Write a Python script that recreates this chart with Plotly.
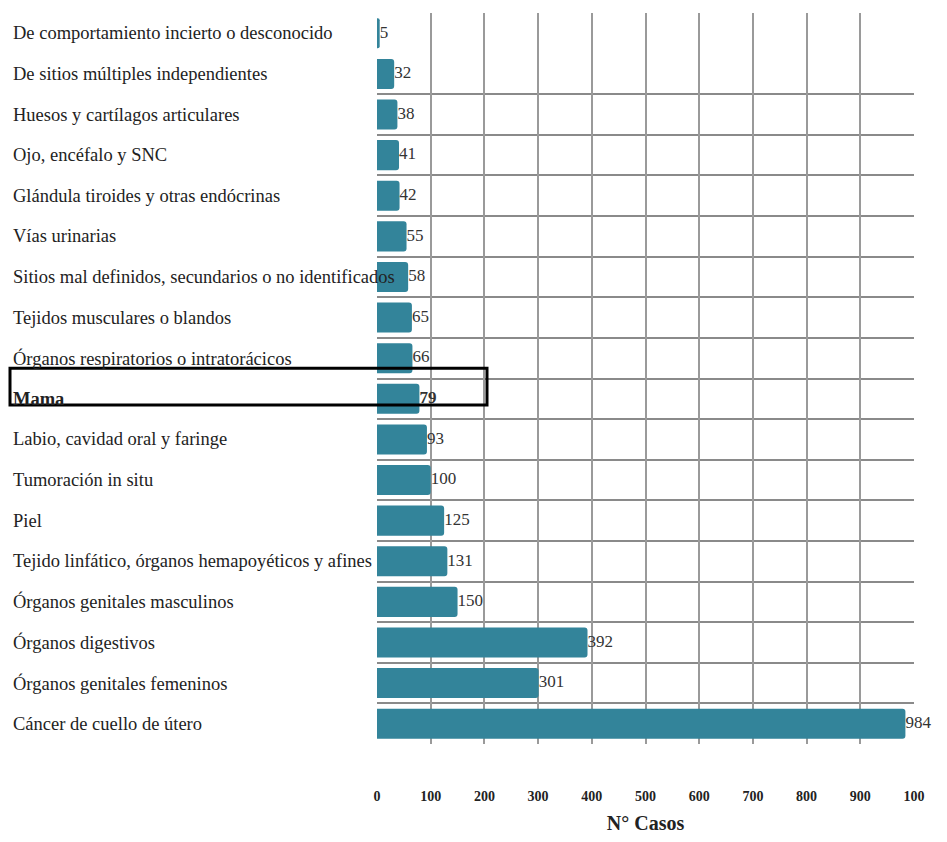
import plotly.graph_objects as go

# Casos por localización del tumor (de arriba hacia abajo)
categorias = [
    "De comportamiento incierto o desconocido",
    "De sitios múltiples independientes",
    "Huesos y cartílagos articulares",
    "Ojo, encéfalo y SNC",
    "Glándula tiroides y otras endócrinas",
    "Vías urinarias",
    "Sitios mal definidos, secundarios o no identificados",
    "Tejidos musculares o blandos",
    "Órganos respiratorios o intratorácicos",
    "Mama",
    "Labio, cavidad oral y faringe",
    "Tumoración in situ",
    "Piel",
    "Tejido linfático, órganos hemapoyéticos y afines",
    "Órganos genitales masculinos",
    "Órganos digestivos",
    "Órganos genitales femeninos",
    "Cáncer de cuello de útero",
]
casos = [5, 32, 38, 41, 42, 55, 58, 65, 66, 79, 93, 100, 125, 131, 150, 392, 301, 984]
destacada = "Mama"

tick_vals = [0, 100, 200, 300, 400, 500, 600, 700, 800, 900, 1000]
tick_text = ["0", "100", "200", "300", "400", "500", "600", "700", "800", "900", "100"]

W, H = 947, 842
ML, MR, MT, MB = 377, 33, 13, 98
plot_w = W - ML - MR

pos = list(range(len(categorias)))
SERIF = "Liberation Serif, Times New Roman, serif"
TEAL = "#33849a"

fig = go.Figure()
fig.add_trace(go.Bar(
    x=casos, y=pos, orientation="h", width=0.74,
    marker=dict(color=TEAL, cornerradius=3, line=dict(width=0)),
    hoverinfo="x+text", text=categorias, textposition="none",
))
etiquetas = [f"<b>{v}</b>" if c == destacada else str(v) for c, v in zip(categorias, casos)]
fig.add_trace(go.Scatter(
    x=casos, y=pos, mode="text", text=etiquetas,
    textposition="middle right",
    textfont=dict(family=SERIF, size=17, color="#333333"),
    cliponaxis=False, hoverinfo="skip",
))

# Nombres de categoría alineados a la izquierda
for p, c in zip(pos, categorias):
    fig.add_annotation(
        x=(11 - ML) / plot_w, xref="paper", y=p, yref="y",
        text=f"<b>{c}</b>" if c == destacada else c,
        xanchor="left", yanchor="middle", showarrow=False,
        font=dict(family=SERIF, size=18.5, color="#222222"),
    )

# Recuadro que resalta la fila de Mama
i = categorias.index(destacada)
fig.add_shape(
    type="rect", xref="paper", yref="y",
    x0=(10 - ML) / plot_w, x1=(487 - ML) / plot_w,
    y0=i - 0.75, y1=i + 0.15,
    line=dict(color="black", width=3), fillcolor="rgba(0,0,0,0)",
)

fig.update_layout(
    width=W, height=H,
    margin=dict(l=ML, r=MR, t=MT, b=MB),
    paper_bgcolor="white", plot_bgcolor="white",
    showlegend=False, bargap=0.26,
    xaxis=dict(
        range=[0, 1000], tickvals=tick_vals, ticktext=tick_text,
        showgrid=True, gridcolor="#9a9a9a", gridwidth=1.5,
        zeroline=False, showline=False, ticks="",
        tickfont=dict(family=SERIF, size=14, color="#222222", weight="bold"),
        ticklabelstandoff=42,
        title=dict(text="<b>N° Casos</b>", font=dict(family=SERIF, size=20, color="#222222"), standoff=12),
    ),
    yaxis=dict(
        range=[len(categorias) - 0.5, -0.5],
        showticklabels=False, showgrid=False, zeroline=False, ticks="",
        minor=dict(tickvals=[p + 0.5 for p in pos[1:-1]] + [len(pos) - 0.5],
                   showgrid=True, gridcolor="#8a8a8a", gridwidth=1.5),
    ),
)

fig.write_html("out.html")
